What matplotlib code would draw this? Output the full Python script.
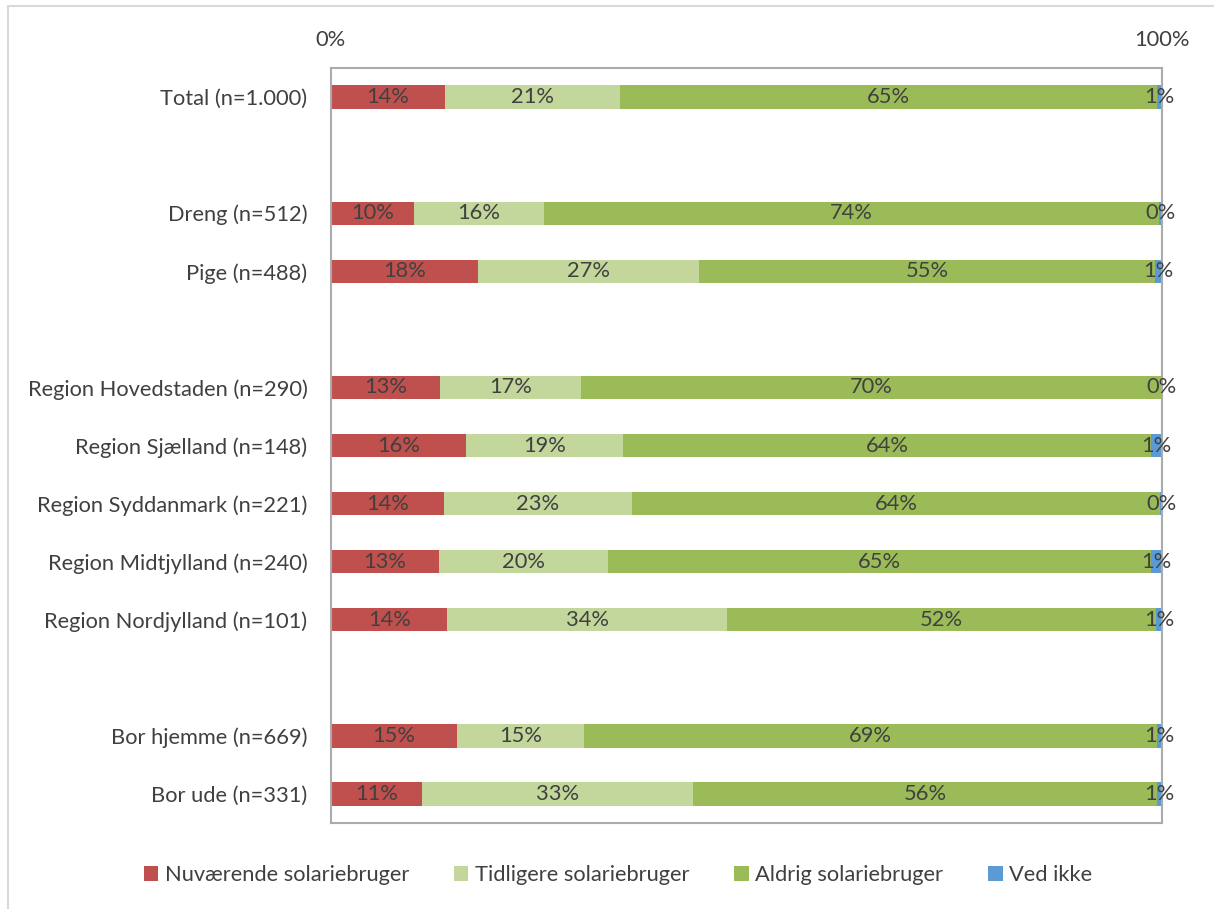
import numpy as np
import matplotlib
matplotlib.use("Agg")
import matplotlib.pyplot as plt
from matplotlib.patches import Rectangle

plt.rcParams['font.family'] = ['Lato', 'DejaVu Sans']

categories = ["Total (n=1.000)", "", "Dreng (n=512)", "Pige (n=488)", "",
              "Region Hovedstaden (n=290)", "Region Sjælland (n=148)",
              "Region Syddanmark (n=221)", "Region Midtjylland (n=240)",
              "Region Nordjylland (n=101)", "", "Bor hjemme (n=669)", "Bor ude (n=331)"]
nan = np.nan
nuvaerende = [13.7, nan, 10.0, 17.7, nan, 13.1, 16.2, 13.6, 13.0, 14.0, nan, 15.2, 11.0]
tidligere  = [21.1, nan, 15.6, 26.6, nan, 17.0, 18.9, 22.6, 20.3, 33.7, nan, 15.2, 32.6]
aldrig     = [64.6, nan, 74.0, 54.9, nan, 69.8, 63.6, 63.6, 65.4, 51.6, nan, 69.0, 55.8]
ved_ikke   = [0.6, nan, 0.4, 0.8, nan, 0.1, 1.3, 0.2, 1.3, 0.7, nan, 0.6, 0.6]
series_names = ["Nuværende solariebruger", "Tidligere solariebruger",
                "Aldrig solariebruger", "Ved ikke"]
colors = ["#C0504D", "#C3D69B", "#9BBB59", "#5B9BD5"]
xtick_vals = [0, 100]
xtick_labels = ["0%", "100%"]

txt = "#404040"
fig = plt.figure(figsize=(12.14, 9.09), dpi=100)
fig.patches.append(Rectangle((8/1214, -0.1), 1.2, 1 - 6/909 + 0.1, transform=fig.transFigure,
                             fill=False, edgecolor="#D9D9D9", linewidth=1.5, zorder=0))
ax = fig.add_axes([331/1214, 1 - 823/909, (1162-331)/1214, (823-68)/909])

y = np.arange(len(categories))
left = np.zeros(len(categories))
data = [nuvaerende, tidligere, aldrig, ved_ikke]
fs = 15.75
for vals, name, c in zip(data, series_names, colors):
    v = np.array(vals, dtype=float)
    ax.barh(y, np.nan_to_num(v), left=left, height=0.4, color=c, label=name)
    for i in range(len(v)):
        if not np.isnan(v[i]):
            ax.text(left[i] + v[i] / 2, y[i], f"{v[i]:.0f}%", ha="center", va="center",
                    fontsize=fs, color=txt)
    left = left + np.nan_to_num(v)

ax.set_xlim(0, 100)
ax.set_ylim(len(categories) - 0.5, -0.5)
ax.set_yticks(y)
ax.set_yticklabels(categories, fontsize=fs, color=txt)
ax.xaxis.tick_top()
ax.set_xticks(xtick_vals)
ax.set_xticklabels(xtick_labels, fontsize=fs, color=txt)
ax.tick_params(axis="x", length=0, pad=13)
ax.tick_params(axis="y", length=0, pad=17)
for s in ax.spines.values():
    s.set_color("#ABABAB")
    s.set_linewidth(1.5)

fig.legend(loc="center", bbox_to_anchor=(618/1214, 1 - 875/909), ncol=4, frameon=False,
           fontsize=fs, labelcolor=txt, handlelength=0.66, handleheight=0.66,
           handletextpad=0.3, columnspacing=2.05)

fig.savefig("out.png", dpi=100, facecolor="white")
